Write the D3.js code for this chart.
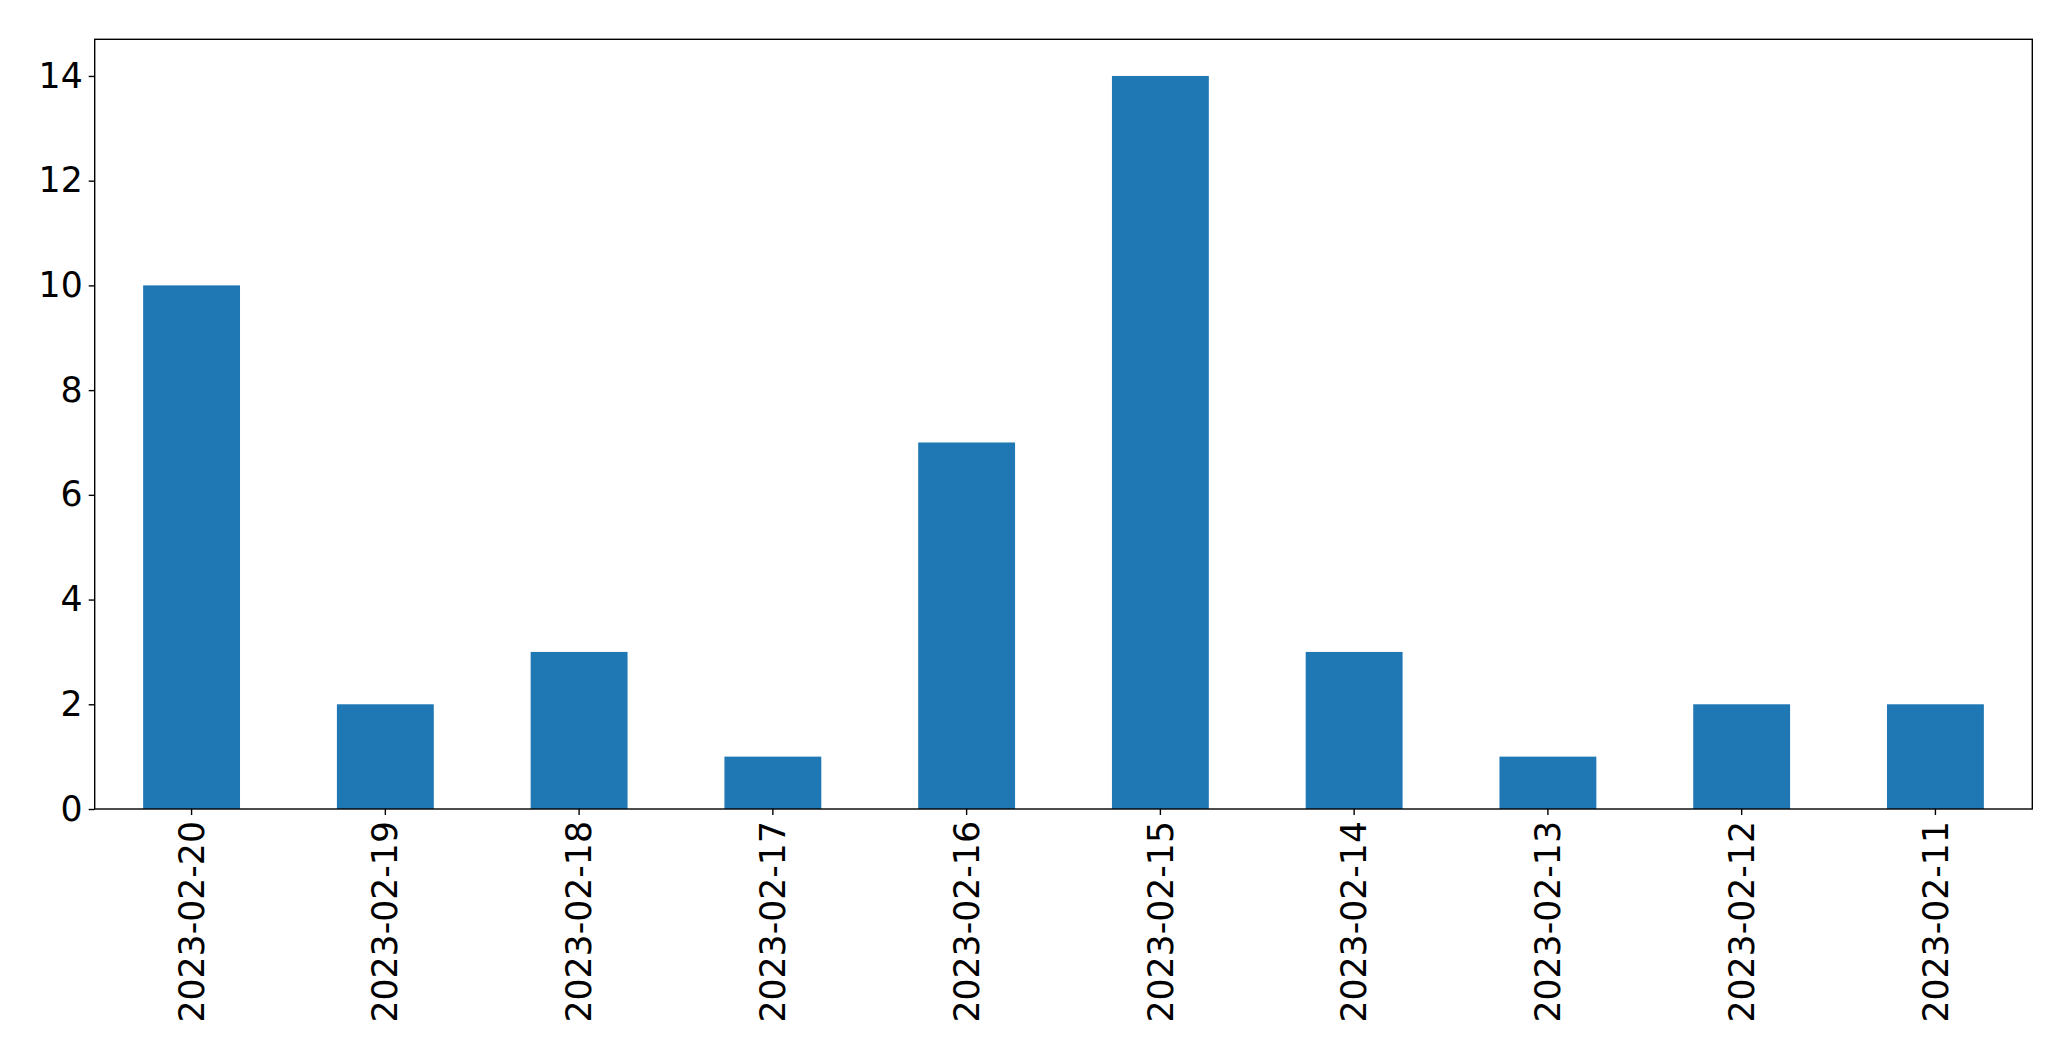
<!DOCTYPE html>
<html>
<head>
<meta charset="utf-8">
<script src="https://cdn.jsdelivr.net/npm/d3@7"></script>
<style>
  html, body { margin: 0; padding: 0; background: #fff; }
  svg { display: block; }
  text { font-family: "DejaVu Sans", sans-serif; }
</style>
</head>
<body>
<svg id="chart" width="2071" height="1061"></svg>
<script>
const categories = ["2023-02-20", "2023-02-19", "2023-02-18", "2023-02-17", "2023-02-16",
                    "2023-02-15", "2023-02-14", "2023-02-13", "2023-02-12", "2023-02-11"];
const values = [10, 2, 3, 1, 7, 14, 3, 1, 2, 2];
const yTicks = [0, 2, 4, 6, 8, 10, 12, 14];

const W = 2071, H = 1061;
const margin = { left: 94.7, right: W - 2032.3, top: 39.3, bottom: H - 809 };
const iw = W - margin.left - margin.right;
const ih = H - margin.top - margin.bottom;
const fontSize = 34.7;
const tickLen = 6;
const tickPad = 6;

const svg = d3.select("#chart");
const g = svg.append("g").attr("transform", `translate(${margin.left},${margin.top})`);

const x = d3.scaleBand().domain(categories).range([0, iw]).paddingInner(0.5).paddingOuter(0.25);
const y = d3.scaleLinear().domain([0, d3.max(values) * 1.05]).range([ih, 0]);

g.selectAll("rect.bar").data(values).enter().append("rect")
  .attr("class", "bar")
  .attr("x", (d, i) => x(categories[i]))
  .attr("y", d => y(d))
  .attr("width", x.bandwidth())
  .attr("height", d => y(0) - y(d))
  .attr("fill", "#1f77b4");

// Y axis
const yAxis = g.append("g")
  .call(d3.axisLeft(y).tickValues(yTicks).tickFormat(d3.format("d")).tickSize(tickLen).tickPadding(tickPad));
yAxis.select(".domain").remove();
yAxis.selectAll(".tick line").attr("stroke", "#000").attr("stroke-width", 1.4);
yAxis.selectAll(".tick text").attr("font-size", fontSize).attr("fill", "#000")
  .attr("font-family", "DejaVu Sans, sans-serif");

// X axis
const xAxis = g.append("g").attr("transform", `translate(0,${ih})`)
  .call(d3.axisBottom(x).tickSize(tickLen).tickPadding(tickPad));
xAxis.select(".domain").remove();
xAxis.selectAll(".tick line").attr("stroke", "#000").attr("stroke-width", 1.4);
xAxis.selectAll(".tick text")
  .attr("font-size", fontSize).attr("fill", "#000")
  .attr("font-family", "DejaVu Sans, sans-serif")
  .attr("text-anchor", "end")
  .attr("transform", `translate(0,${tickLen + tickPad}) rotate(-90)`)
  .attr("x", 0).attr("y", 0).attr("dy", "0.35em");

// Frame (spines)
g.append("rect")
  .attr("x", 0).attr("y", 0).attr("width", iw).attr("height", ih)
  .attr("fill", "none").attr("stroke", "#000").attr("stroke-width", 1.4);
</script>
</body>
</html>
